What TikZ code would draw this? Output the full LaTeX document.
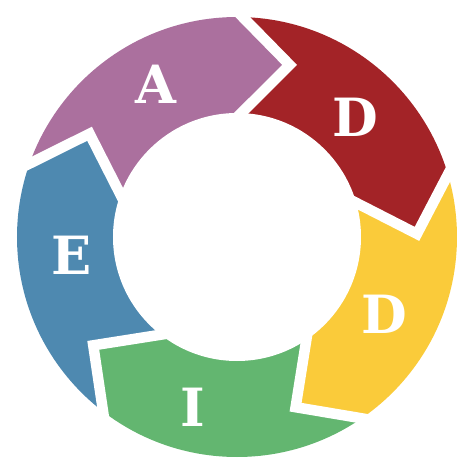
\documentclass[tikz,border=0pt]{standalone}
\usepackage{fontspec}
\setmainfont{DejaVu Serif}
\usetikzlibrary{calc}
\tikzset{gap/.style = {white, line width = 0.21cm, line join = miter, miter limit = 10},
  letter/.style = {white, inner sep = 0, font = \fontsize{30}{30}\selectfont\bfseries}}
\definecolor{mpurple}{RGB}{171,112,158}
\definecolor{mred}{RGB}{163,35,39}
\definecolor{myellow}{RGB}{250,203,58}
\definecolor{mgreen}{RGB}{99,182,112}
\definecolor{mblue}{RGB}{78,137,176}

\begin{document}
\begin{tikzpicture}[x=0.02cm, y=0.02cm]
      \useasboundingbox (-237, -237) rectangle (237, 237);
      % boundaries between the arrows
      \foreach \i in {0,..., 4} {
        \pgfmathsetmacro\t{91-72*\i};
        \coordinate (out\i) at (\t-2.5:220);
        \coordinate (tip\i) at (\t-18:180);
        \coordinate (in\i) at (\t-3:124);
      }
      \begin{scope}
        \clip (0, 0) circle (220);
        \foreach \i/\c in {0/mred, 1/myellow, 2/mgreen, 3/mblue, 4/mpurple} {
          \pgfmathsetmacro\t{91-72*\i};
          \pgfmathtruncatemacro\j{mod(\i+1, 5)};
          \fill [\c] (\t-2.5:300) -- (out\i) -- (tip\i) -- (in\i) -- (0, 0) -- (in\j)
            -- (tip\j) -- (out\j) -- (\t-74.5:300) -- (\t-38:300) -- cycle;
        }
      \end{scope}
      \fill [white] (0, 0) circle (124);
      \foreach \i in {0,..., 4} {
        \draw [gap] ($(tip\i)!1.5!(out\i)$) -- (tip\i) -- ($(tip\i)!1.5!(in\i)$);
      }
      \node [letter] (lA) at (-81, 153) {A};
      \node [letter] (lD1) at (118, 120) {D};
      \node [letter] (lD2) at (147, -77) {D};
      \node [letter] (lI) at (-44, -170) {I};
      \node [letter] (lE) at (-165, -18) {E};
    \end{tikzpicture}
\end{document}
